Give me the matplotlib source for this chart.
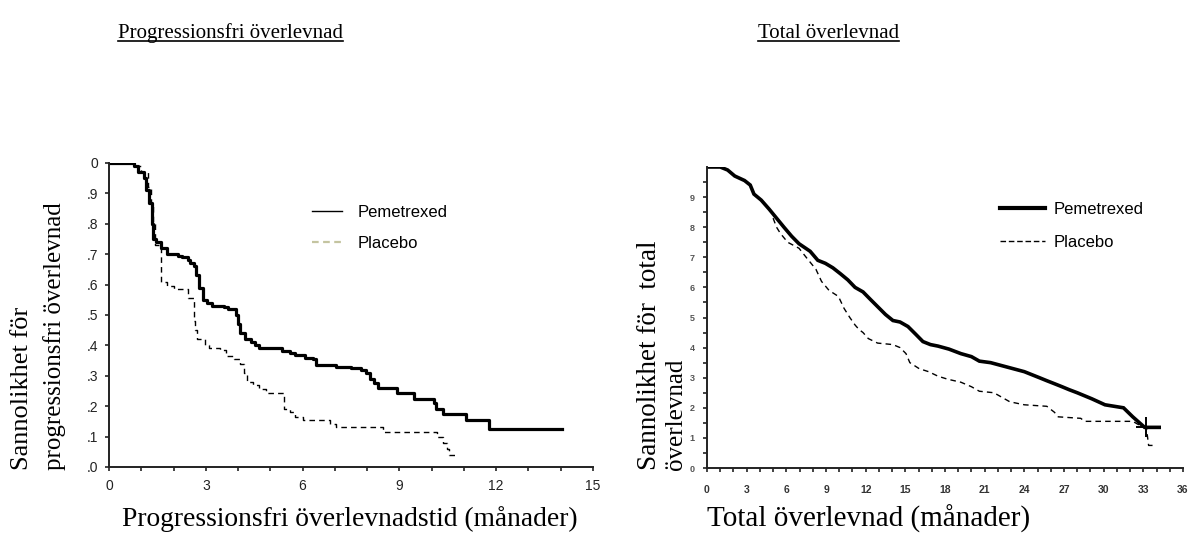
import numpy as np
import matplotlib
matplotlib.use("Agg")
import matplotlib.pyplot as plt
from matplotlib.lines import Line2D

# ── Data ──────────────────────────────────────────────────────────────────────
# Progressionsfri överlevnad (månader, sannolikhet)
pfs_pem_t = [0, 0.78, 0.9, 1.07, 1.15, 1.25, 1.32, 1.37, 1.45, 1.6, 1.8, 2.14, 2.26,
             2.44, 2.5, 2.62, 2.7, 2.8, 2.92, 3.04, 3.2, 3.57, 3.69, 3.93, 4.0, 4.05,
             4.23, 4.4, 4.52, 4.64, 5.12, 5.36, 5.6, 5.77, 6.07, 6.31, 6.43, 7.02, 7.5,
             7.8, 7.98, 8.1, 8.2, 8.33, 8.8, 8.93, 9.4, 9.46, 9.94, 10.06, 10.12, 10.36,
             11.0, 11.07, 11.7, 11.77, 14.05]
pfs_pem_s = [1.0, 0.99, 0.97, 0.95, 0.91, 0.87, 0.80, 0.75, 0.74, 0.72, 0.70, 0.695, 0.69,
             0.68, 0.67, 0.66, 0.63, 0.59, 0.55, 0.54, 0.53, 0.525, 0.52, 0.50, 0.47, 0.44,
             0.42, 0.41, 0.40, 0.39, 0.39, 0.38, 0.375, 0.37, 0.36, 0.355, 0.335, 0.33, 0.325,
             0.32, 0.31, 0.29, 0.275, 0.26, 0.26, 0.245, 0.245, 0.225, 0.225, 0.21, 0.19, 0.175,
             0.175, 0.155, 0.155, 0.125, 0.125]

pfs_pla_t = [0, 0.85, 1.0, 1.2, 1.3, 1.37, 1.43, 1.6, 1.8, 2.02, 2.32, 2.44, 2.56, 2.62,
             2.68, 2.74, 2.98, 3.1, 3.45, 3.63, 3.87, 4.05, 4.17, 4.29, 4.46, 4.64, 4.88,
             5.3, 5.42, 5.6, 5.77, 6.01, 6.73, 6.85, 7.02, 8.45, 8.5, 10.12, 10.18, 10.36,
             10.48, 10.54, 10.71]
pfs_pla_s = [1.0, 0.99, 0.97, 0.92, 0.86, 0.80, 0.73, 0.61, 0.595, 0.585, 0.585, 0.555, 0.555, 0.48,
             0.45, 0.42, 0.40, 0.39, 0.385, 0.365, 0.355, 0.34, 0.31, 0.28, 0.27, 0.255, 0.245,
             0.245, 0.19, 0.18, 0.165, 0.155, 0.155, 0.14, 0.13, 0.13, 0.115, 0.115, 0.10, 0.08,
             0.06, 0.04, 0.04]

# Total överlevnad (månader, sannolikhet)
os_pem_t = [0, 1.0, 1.56, 2.1, 2.84, 3.27, 3.55, 4.1, 4.7, 5.26, 5.82, 6.4, 6.96, 7.8, 8.38,
            8.95, 9.52, 10.1, 10.65, 11.2, 11.8, 12.36, 12.93, 13.5, 14.06, 14.6, 15.2, 15.77,
            16.33, 16.9, 17.47, 18.3, 19.2, 20.0, 20.6, 21.45, 22.3, 23.15, 24.0, 24.57, 25.14,
            25.7, 26.28, 26.85, 27.4, 28.0, 28.55, 29.1, 30.1, 31.5, 32.2, 33.1, 34.2]
os_pem_s = [1.0, 1.0, 0.99, 0.97, 0.955, 0.94, 0.91, 0.89, 0.86, 0.83, 0.80, 0.77, 0.745, 0.72, 0.69,
            0.68, 0.665, 0.645, 0.625, 0.60, 0.585, 0.56, 0.535, 0.51, 0.49, 0.485, 0.47, 0.445,
            0.42, 0.41, 0.405, 0.395, 0.38, 0.37, 0.355, 0.35, 0.34, 0.33, 0.32, 0.31, 0.30,
            0.29, 0.28, 0.27, 0.26, 0.25, 0.24, 0.23, 0.21, 0.20, 0.17, 0.135, 0.135]

os_pla_t = [5.0, 5.26, 5.54, 6.1, 6.96, 7.5, 8.24, 8.66, 9.23, 9.94, 10.37, 10.8, 11.2, 11.5,
            11.8, 12.2, 12.9, 14.06, 14.6, 15.05, 15.34, 16.05, 16.76, 17.47, 18.2, 19.2, 20.0,
            20.6, 21.7, 22.3, 22.9, 24.0, 25.7, 26.28, 26.56, 28.27, 28.55, 32.2, 32.8, 33.24,
            33.4, 33.7]
os_pla_s = [0.83, 0.80, 0.78, 0.75, 0.73, 0.70, 0.66, 0.62, 0.59, 0.57, 0.53, 0.50, 0.475, 0.46,
            0.45, 0.43, 0.415, 0.41, 0.40, 0.38, 0.35, 0.33, 0.32, 0.305, 0.295, 0.285, 0.27,
            0.255, 0.25, 0.235, 0.22, 0.21, 0.205, 0.185, 0.17, 0.165, 0.155, 0.155, 0.14, 0.13,
            0.075, 0.075]
os_cens_t = [33.2]
os_cens_s = [0.135]

pfs_xticks = list(range(0, 16, 3))
pfs_yticks = [round(v * 0.1, 1) for v in range(0, 11)]
pfs_ylabels = [".0", ".1", ".2", ".3", ".4", ".5", ".6", ".7", ".8", ".9", "0"]
os_xticks = list(range(0, 37, 3))
os_yticks = [round(v * 0.1, 1) for v in range(0, 10)]
os_ylabels = ["0", "1", "2", "3", "4", "5", "6", "7", "8", "9"]

W, H = 1192, 533
SANS = "Liberation Sans"
SERIF = "Liberation Serif"

fig = plt.figure(figsize=(W / 100, H / 100), dpi=100)


def px_axes(x0, y0, x1, y1):
    """axes from pixel box (top-left origin)"""
    return fig.add_axes([x0 / W, 1 - y1 / H, (x1 - x0) / W, (y1 - y0) / H])


def style(ax):
    for s in ("top", "right"):
        ax.spines[s].set_visible(False)
    for s in ("left", "bottom"):
        ax.spines[s].set_linewidth(1.4)
        ax.spines[s].set_color("#222222")
    ax.tick_params(which="both", direction="out", length=3, width=1.2, color="#222222")


# ── Left: progressionsfri överlevnad ─────────────────────────────────────────
ax1 = px_axes(109, 163, 593, 467)
ax1.step(pfs_pem_t, pfs_pem_s, where="post", color="black", lw=2.3)
ax1.step(pfs_pla_t, pfs_pla_s, where="post", color="black", lw=1.0, dashes=(4, 3))
ax1.set_xlim(0, 15)
ax1.set_ylim(0, 1.0)
style(ax1)
ax1.set_xticks(pfs_xticks)
ax1.set_xticks(range(0, 16), minor=True)
ax1.set_xticklabels([str(v) for v in pfs_xticks], fontfamily=SANS, fontsize=10, color="#222222")
ax1.set_yticks(pfs_yticks)
ax1.set_yticklabels(pfs_ylabels, fontfamily=SANS, fontsize=10, color="#222222")
ax1.tick_params(axis="x", pad=6)
ax1.tick_params(axis="y", pad=5)

h1 = [Line2D([], [], color="black", lw=1.0),
      Line2D([], [], color="#c4c4a0", lw=1.6, dashes=(3, 2))]
ax1.legend(h1, ["Pemetrexed", "Placebo"], loc="upper left", bbox_to_anchor=(0.42, 0.862),
           frameon=False, borderaxespad=0, borderpad=0, handlelength=1.8,
           handletextpad=0.9, labelspacing=0.98, prop={"family": SANS, "size": 12})

# ── Right: total överlevnad ──────────────────────────────────────────────────
ax2 = px_axes(707, 167, 1183, 468)
ax2.plot(os_pem_t, os_pem_s, color="black", lw=2.6, solid_joinstyle="miter")
ax2.plot(os_pla_t, os_pla_s, color="black", lw=1.0, dashes=(4, 3))
ax2.plot(os_cens_t, os_cens_s, marker="+", ms=14, mew=1.4, color="black", ls="none")
ax2.set_xlim(0, 36)
ax2.set_ylim(0, 1.0)
style(ax2)
ax2.set_xticks(os_xticks)
ax2.set_xticks(range(0, 37), minor=True)
ax2.set_xticklabels([str(v) for v in os_xticks], fontfamily=SANS, fontsize=7.5,
                    fontweight="bold", color="#333333")
ax2.set_yticks(os_yticks)
ax2.set_yticks([v * 0.05 for v in range(0, 20)], minor=True)
ax2.set_yticklabels(os_ylabels, fontfamily=SANS, fontsize=6.5, fontweight="bold", color="#555555")
ax2.tick_params(axis="x", pad=9)
ax2.tick_params(axis="y", pad=6)

h2 = [Line2D([], [], color="black", lw=3.0),
      Line2D([], [], color="black", lw=1.0, dashes=(4, 2))]
ax2.legend(h2, ["Pemetrexed", "Placebo"], loc="upper left", bbox_to_anchor=(0.615, 0.885),
           frameon=False, borderaxespad=0, borderpad=0, handlelength=2.7,
           handletextpad=0.55, labelspacing=1.1, prop={"family": SANS, "size": 12})

# ── Texts ────────────────────────────────────────────────────────────────────
t1 = fig.text(118 / W, 1 - 38 / H, "Progressionsfri överlevnad", family=SERIF,
              fontsize=15, ha="left", va="baseline")
t2 = fig.text(758 / W, 1 - 38 / H, "Total överlevnad", family=SERIF,
              fontsize=15, ha="left", va="baseline")

fig.text(350 / W, 1 - 519 / H, "Progressionsfri överlevnadstid (månader)", family=SERIF,
         fontsize=19.8, ha="center", va="center")
fig.text(707 / W, 1 - 519 / H, "Total överlevnad (månader)", family=SERIF,
         fontsize=21, ha="left", va="center")

fig.text(22 / W, 1 - 470 / H, "Sannolikhet för", family=SERIF, fontsize=19,
         rotation=90, ha="center", va="bottom")
fig.text(55 / W, 1 - 470 / H, "progressionsfri överlevnad", family=SERIF, fontsize=18,
         rotation=90, ha="center", va="bottom")
fig.text(650 / W, 1 - 470 / H, "Sannolikhet för  total", family=SERIF, fontsize=19.5,
         rotation=90, ha="center", va="bottom")
fig.text(676 / W, 1 - 470 / H, "överlevnad", family=SERIF, fontsize=18,
         rotation=90, ha="center", va="bottom")

# underline the two titles
fig.canvas.draw()
rend = fig.canvas.get_renderer()
for t in (t1, t2):
    bb = t.get_window_extent(rend)
    y = 1 - 41 / H
    fig.add_artist(Line2D([bb.x0 / W, bb.x1 / W], [y, y], transform=fig.transFigure,
                          color="black", lw=1.2))

fig.savefig("out.png", dpi=100)
